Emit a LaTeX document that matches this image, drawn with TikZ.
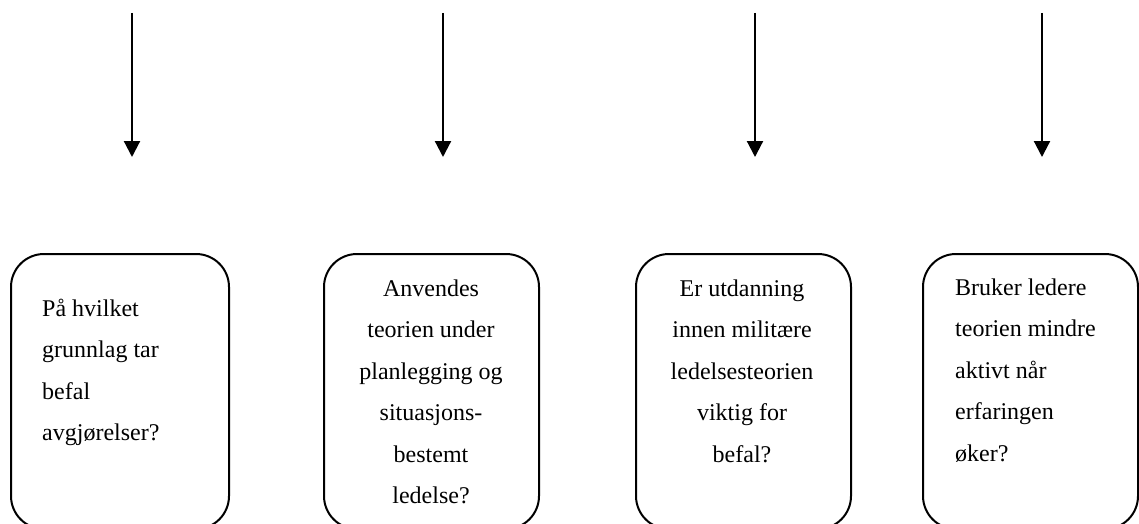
\documentclass[tikz,border=0pt]{standalone}
\usepackage{fontspec}
\setmainfont{Liberation Serif}
\usetikzlibrary{arrows.meta}
\begin{document}
\begin{tikzpicture}[x=1pt,y=-1pt,
  arr/.style={line width=2.2pt,-{Triangle[width=16pt,length=16pt]}},
  qbox/.style={draw,line width=2pt,rounded corners=33pt,inner sep=0pt},
  qtext/.style={inner sep=0pt,font=\fontsize{24}{41.5}\selectfont,execute at begin node=\strut},
]
\useasboundingbox (0,0) rectangle (1139,524);
\clip (0,0) rectangle (1139,524);
% arrows
\foreach \i/\x in {1/132,2/443,3/755,4/1042}{
  \coordinate (s\i) at (\x,13);
  \coordinate (e\i) at (\x,157);
}
\draw[arr] (s1) -- (e1);
\draw[arr] (s2) -- (e2);
\draw[arr] (s3) -- (e3);
\draw[arr] (s4) -- (e4);
% boxes
\node[qbox,minimum width=218pt,minimum height=275pt,anchor=north west] (b1) at (10,253) {};
\node[qbox,minimum width=215pt,minimum height=275pt,anchor=north west] (b2) at (323,253) {};
\node[qbox,minimum width=215pt,minimum height=275pt,anchor=north west] (b3) at (635,253) {};
\node[qbox,minimum width=215pt,minimum height=275pt,anchor=north west] (b4) at (922,253) {};
% texts
\node[qtext,align=left,anchor=north west] (t1) at (42,298.5) {På hvilket\\grunnlag tar\\befal\\avgjørelser?};
\node[qtext,align=center,anchor=north] (t2) at (431,279.5) {Anvendes\\teorien under\\planlegging og\\situasjons-\\bestemt\\ledelse?};
\node[qtext,align=center,anchor=north] (t3) at (742,279.5) {Er utdanning\\innen militære\\ledelsesteorien\\viktig for\\befal?};
\node[qtext,align=left,anchor=north west] (t4) at (955,278.5) {Bruker ledere\\teorien mindre\\aktivt når\\erfaringen\\øker?};
\end{tikzpicture}
\end{document}
